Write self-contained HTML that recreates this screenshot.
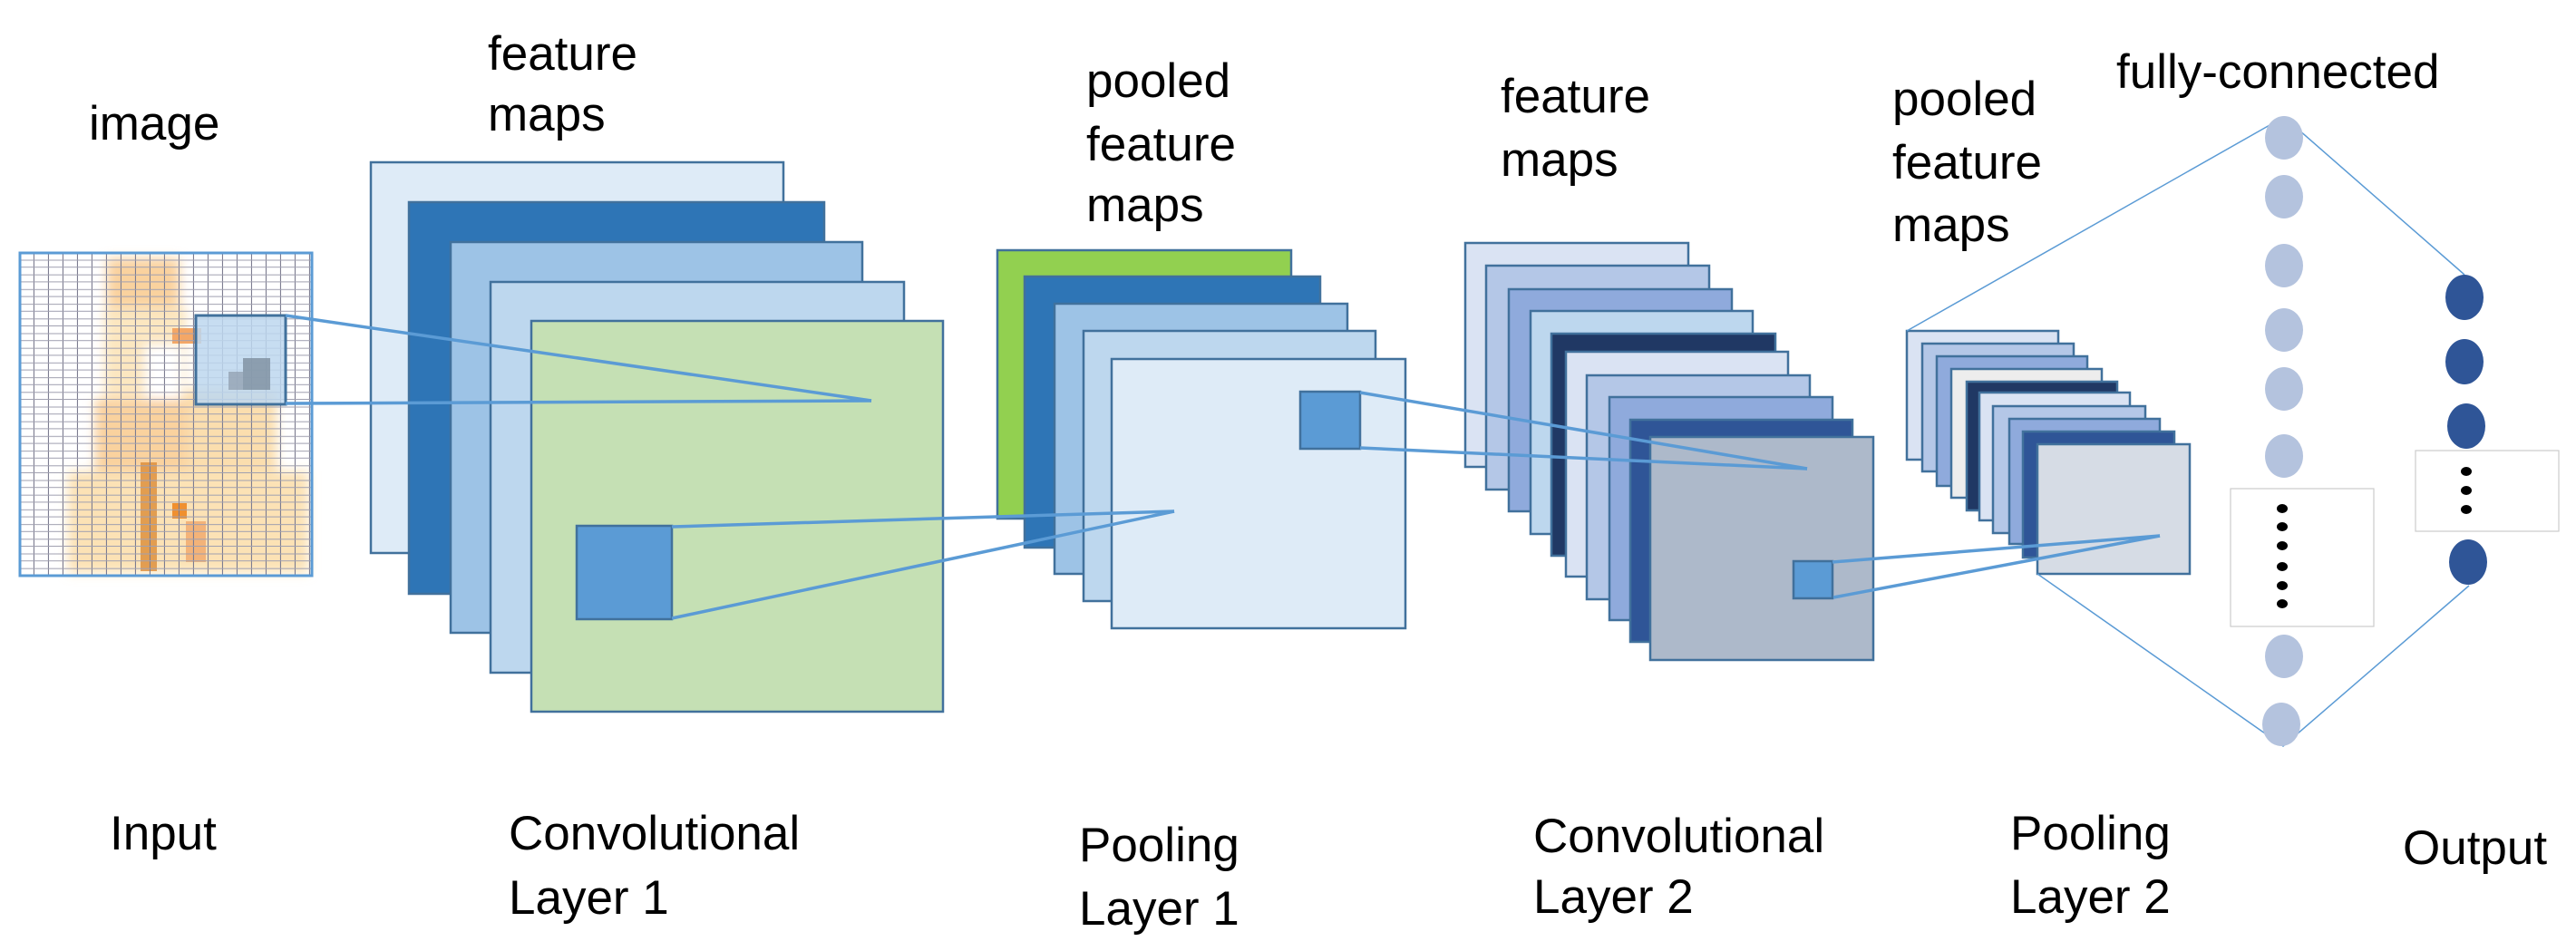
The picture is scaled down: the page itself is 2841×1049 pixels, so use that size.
<!DOCTYPE html>
<html><head><meta charset="utf-8"><style>
html,body{margin:0;padding:0;background:#fff;}
svg{display:block;}
text{font-family:"Liberation Sans",sans-serif;font-size:53px;fill:#000;}
</style></head><body>
<svg width="2841" height="1049" viewBox="0 0 2841 1049" xmlns="http://www.w3.org/2000/svg">
<defs>
<pattern id="grid" x="22" y="279" width="16" height="16.2" patternUnits="userSpaceOnUse">
<line x1="15.5" y1="0" x2="15.5" y2="16.2" stroke="#7c7c90" stroke-width="1.2"/>
<line x1="0" y1="8" x2="16" y2="8" stroke="#a0a0b0" stroke-width="1"/>
<line x1="0" y1="15.7" x2="16" y2="15.7" stroke="#a0a0b0" stroke-width="1"/>
</pattern>
<filter id="bl"><feGaussianBlur stdDeviation="6"/></filter>
</defs>
<!-- labels -->
<text x="98" y="154">image</text>
<text x="538" y="77">feature</text>
<text x="538" y="144">maps</text>
<text x="1198" y="107">pooled</text>
<text x="1198" y="177">feature</text>
<text x="1198" y="244">maps</text>
<text x="1655" y="124">feature</text>
<text x="1655" y="194">maps</text>
<text x="2087" y="127">pooled</text>
<text x="2087" y="197">feature</text>
<text x="2087" y="266">maps</text>
<text x="2334" y="97">fully-connected</text>
<text x="121" y="937">Input</text>
<text x="561" y="937">Convolutional</text>
<text x="561" y="1008">Layer 1</text>
<text x="1190" y="950">Pooling</text>
<text x="1190" y="1020">Layer 1</text>
<text x="1691" y="940">Convolutional</text>
<text x="1691" y="1007">Layer 2</text>
<text x="2217" y="937">Pooling</text>
<text x="2217" y="1007">Layer 2</text>
<text x="2650" y="953">Output</text>

<!-- input image -->
<rect x="22" y="279" width="322" height="356" fill="#fff"/>
<g filter="url(#bl)">
<g fill="#F9CB8E" opacity="0.85">
<rect x="118" y="285" width="80" height="55"/>
<rect x="115" y="339" width="90" height="100" fill="#FCE3B5"/>
<rect x="105" y="440" width="110" height="190"/>
<rect x="205" y="430" width="100" height="200" fill="#FBD9A0"/>
<rect x="75" y="520" width="265" height="112" fill="#FCDDA8"/>
<rect x="160" y="380" width="40" height="60" fill="#fff"/>
</g>
</g>
<rect x="155" y="510" width="18" height="120" fill="#D9852F" opacity="0.75"/>
<rect x="190" y="555" width="16" height="17" fill="#F0902F"/>
<rect x="205" y="575" width="22" height="45" fill="#F0A060" opacity="0.7"/>
<rect x="190" y="362" width="32" height="17" fill="#F4A766"/>
<rect x="22" y="279" width="322" height="356" fill="url(#grid)"/>
<rect x="22" y="279" width="322" height="356" fill="none" stroke="#5B9BD5" stroke-width="3"/>
<rect x="216" y="348" width="99" height="98" fill="#BDD7EE" opacity="0.85"/>
<rect x="268" y="395" width="30" height="35" fill="#7d8f9f" opacity="0.8"/>
<rect x="252" y="410" width="16" height="20" fill="#93a3b3" opacity="0.8"/>
<rect x="216" y="348" width="99" height="98" fill="none" stroke="#41719C" stroke-width="3"/>

<!-- conv1 -->
<g stroke="#41719C" stroke-width="2.5">
<rect x="409" y="179" width="455" height="431" fill="#DEEBF7"/>
<rect x="451" y="223" width="458" height="432" fill="#2E75B6"/>
<rect x="497" y="267" width="454" height="431" fill="#9DC3E6"/>
<rect x="541" y="311" width="456" height="431" fill="#BDD7EE"/>
<rect x="586" y="354" width="454" height="431" fill="#C5E0B4"/>
<rect x="636" y="580" width="105" height="103" fill="#5B9BD5"/>
</g>
<g stroke="#5B9BD5" stroke-width="3.5" fill="none">
<line x1="315" y1="348" x2="961" y2="442"/>
<line x1="315" y1="445" x2="961" y2="442"/>
</g>

<!-- pool1 -->
<g stroke="#41719C" stroke-width="2.5">
<rect x="1100" y="276" width="324" height="296" fill="#92D050"/>
<rect x="1130" y="305" width="326" height="299" fill="#2E75B6"/>
<rect x="1163" y="335" width="323" height="298" fill="#9DC3E6"/>
<rect x="1195" y="365" width="322" height="298" fill="#BDD7EE"/>
<rect x="1226" y="396" width="324" height="297" fill="#DEEBF7"/>
<rect x="1434" y="432" width="66" height="63" fill="#5B9BD5"/>
</g>
<g stroke="#5B9BD5" stroke-width="3.5" fill="none">
<line x1="741" y1="581" x2="1295" y2="564"/>
<line x1="741" y1="682" x2="1295" y2="564"/>
</g>

<!-- conv2 -->
<g stroke="#41719C" stroke-width="2.5">
<rect x="1616" y="268" width="246" height="247" fill="#DAE3F3"/>
<rect x="1639" y="293" width="246" height="247" fill="#B4C7E7"/>
<rect x="1664" y="319" width="246" height="245" fill="#8FAADC"/>
<rect x="1688" y="343" width="245" height="246" fill="#BDD7EE"/>
<rect x="1711" y="368" width="247" height="245" fill="#203864"/>
<rect x="1727" y="388" width="245" height="248" fill="#DAE3F3"/>
<rect x="1750" y="414" width="246" height="247" fill="#B4C7E7"/>
<rect x="1775" y="438" width="246" height="246" fill="#8FAADC"/>
<rect x="1798" y="463" width="245" height="245" fill="#2F5597"/>
<rect x="1820" y="482" width="246" height="246" fill="#ADB9CA"/>
<rect x="1978" y="619" width="43" height="41" fill="#5B9BD5"/>
</g>
<g stroke="#5B9BD5" stroke-width="3.5" fill="none">
<line x1="1500" y1="433" x2="1993" y2="517"/>
<line x1="1500" y1="494" x2="1993" y2="517"/>
</g>

<!-- pool2 -->
<g stroke="#41719C" stroke-width="2.5">
<rect x="2103" y="365" width="167" height="142" fill="#DAE3F3"/>
<rect x="2120" y="379" width="167" height="141" fill="#B4C7E7"/>
<rect x="2136" y="393" width="166" height="143" fill="#8FAADC"/>
<rect x="2152" y="407" width="166" height="142" fill="#EDEDED"/>
<rect x="2169" y="421" width="166" height="142" fill="#203864"/>
<rect x="2183" y="433" width="166" height="141" fill="#DAE3F3"/>
<rect x="2198" y="448" width="168" height="140" fill="#B4C7E7"/>
<rect x="2216" y="462" width="166" height="138" fill="#8FAADC"/>
<rect x="2231" y="476" width="167" height="139" fill="#2F5597"/>
<rect x="2247" y="490" width="168" height="143" fill="#D6DCE5"/>
</g>
<g stroke="#5B9BD5" stroke-width="3.5" fill="none">
<line x1="2021" y1="620" x2="2382" y2="591"/>
<line x1="2022" y1="659" x2="2382" y2="591"/>
</g>

<!-- FC -->
<g stroke="#5B9BD5" stroke-width="1.5" fill="none">
<polyline points="2103,365 2519,129 2718,303"/>
<polyline points="2247,633 2518,823 2723,646"/>
</g>
<g fill="#B4C3DE">
<ellipse cx="2519" cy="152" rx="21" ry="24"/>
<ellipse cx="2519" cy="217" rx="21" ry="24"/>
<ellipse cx="2519" cy="293" rx="21" ry="24"/>
<ellipse cx="2519" cy="364" rx="21" ry="24"/>
<ellipse cx="2519" cy="429" rx="21" ry="24"/>
<ellipse cx="2519" cy="503" rx="21" ry="24"/>
<ellipse cx="2519" cy="724" rx="21" ry="24"/>
<ellipse cx="2516" cy="799" rx="21" ry="24"/>
</g>
<rect x="2460" y="539" width="158" height="152" fill="#fff" stroke="#ccc" stroke-width="1.2"/>
<g fill="#000">
<ellipse cx="2517" cy="561" rx="6" ry="5"/>
<ellipse cx="2517" cy="581" rx="6" ry="5"/>
<ellipse cx="2517" cy="602" rx="6" ry="5"/>
<ellipse cx="2517" cy="625" rx="6" ry="5"/>
<ellipse cx="2517" cy="646" rx="6" ry="5"/>
<ellipse cx="2517" cy="666" rx="6" ry="5"/>
</g>
<g fill="#2F5597">
<ellipse cx="2718" cy="328" rx="21" ry="25"/>
<ellipse cx="2718" cy="399" rx="21" ry="25"/>
<ellipse cx="2720" cy="470" rx="21" ry="25"/>
<ellipse cx="2722" cy="620" rx="21" ry="25"/>
</g>
<rect x="2664" y="497" width="158" height="89" fill="#fff" stroke="#ccc" stroke-width="1.2"/>
<g fill="#000">
<ellipse cx="2720" cy="520" rx="6" ry="5"/>
<ellipse cx="2720" cy="541" rx="6" ry="5"/>
<ellipse cx="2720" cy="562" rx="6" ry="5"/>
</g>
</svg>
</body></html>
